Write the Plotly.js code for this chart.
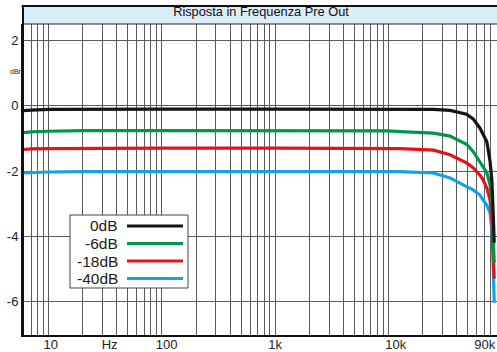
<!DOCTYPE html>
<html>
<head>
<meta charset="utf-8">
<script src="https://cdn.plot.ly/plotly-3.0.1.min.js"></script>
<style>html,body{margin:0;padding:0;background:#fff;}#chart{width:497px;height:352px;}</style>
</head>
<body>
<div id="chart"></div>
<script>
// ---- data ----
const freqHz = [6, 7, 10, 20, 100, 1000, 10000, 12700, 25000, 35000, 49000, 56000, 64000, 68000, 74000, 79000, 82000, 84000, 86000];
const level0dB  = [-0.15, -0.13, -0.11, -0.10, -0.10, -0.10, -0.10, -0.10, -0.11, -0.14, -0.26, -0.40, -0.67, -0.85, -1.10, -1.70, -2.30, -3.20, -4.20];
const level6dB  = [-0.82, -0.80, -0.78, -0.76, -0.76, -0.76, -0.77, -0.79, -0.84, -0.93, -1.18, -1.40, -1.71, -1.85, -2.05, -2.42, -2.90, -3.80, -4.82];
const level18dB = [-1.34, -1.32, -1.31, -1.30, -1.30, -1.30, -1.30, -1.31, -1.36, -1.50, -1.75, -1.90, -2.12, -2.25, -2.52, -2.88, -3.50, -4.30, -5.30];
const level40dB = [-2.06, -2.05, -2.03, -2.02, -2.02, -2.02, -2.02, -2.02, -2.06, -2.21, -2.48, -2.58, -2.73, -2.88, -3.05, -3.28, -3.80, -4.70, -6.04];
const seriesNames  = ['0dB', '-6dB', '-18dB', '-40dB'];
const seriesColors = ['#151515', '#00964b', '#e3131b', '#11a3e3'];
const xTickLabels = ['10', 'Hz', '100', '1k', '10k', '90k'];
const xTickPos    = [10.4, 34.5, 110, 1000, 11600, 71000];
const yTickVals   = [-6, -4, -2, 0, 2];
const gridMultipliers = [1, 2, 3, 4, 5, 6, 7, 8, 9];
const gridDecades = [1, 10, 100, 1000, 10000];
const chartTitle = 'Risposta in Frequenza Pre Out';
const yUnit = 'dBr';

// ---- build ----
const gridFreqs = [];
gridDecades.forEach(d => gridMultipliers.forEach(m => gridFreqs.push(m * d)));
const xRange = [Math.log10(5.93), Math.log10(91000)];
const yRange = [-7.03, 2.51];
const FONT = 'Liberation Sans, Arial, sans-serif';

const levels = [level0dB, level6dB, level18dB, level40dB];
const traces = [];
for (let i = levels.length - 1; i >= 0; i--) {
  traces.push({
    x: freqHz, y: levels[i], type: 'scatter', mode: 'lines', name: seriesNames[i],
    xaxis: i === 0 ? 'x2' : 'x', yaxis: 'y',
    line: {color: seriesColors[i], width: 3.2}, showlegend: false, hoverinfo: 'skip'
  });
}

// legend geometry (paper coords)
const plotL = 23, plotW = 474, plotB = 335, plotH = 311;
const px = v => (v - plotL) / plotW;
const py = v => (plotB - v) / plotH;
const legRows = [226, 243.5, 261, 278.5];
const shapes = [
  {type: 'rect', xref: 'paper', yref: 'paper', x0: 0, x1: 1.01, y0: 1, y1: 1 + 18 / plotH,
   fillcolor: '#dbedf9', line: {color: '#222', width: 1}, layer: 'above'},
  {type: 'line', xref: 'paper', yref: 'paper', x0: -0.003, x1: 1.01, y0: 1 + 18 / plotH, y1: 1 + 18 / plotH,
   line: {color: '#111', width: 2.2}, layer: 'above'},
  {type: 'line', xref: 'paper', yref: 'paper', x0: 0, x1: 0, y0: 0, y1: 1 + 18 / plotH,
   line: {color: '#111', width: 2}, layer: 'above'},
  {type: 'rect', xref: 'paper', yref: 'paper', x0: px(70), x1: px(188), y0: py(288), y1: py(215),
   fillcolor: '#ffffff', line: {color: '#444', width: 1}, layer: 'above'}
];
const annotations = [
  {text: yUnit, xref: 'paper', yref: 'paper', x: px(16), y: py(71), showarrow: false,
   xanchor: 'center', yanchor: 'middle', font: {family: FONT, size: 7, color: '#222'}}
];
seriesNames.forEach((n, i) => {
  shapes.push({type: 'line', xref: 'paper', yref: 'paper', x0: px(127), x1: px(183),
    y0: py(legRows[i]), y1: py(legRows[i]), line: {color: seriesColors[i], width: 3.2}, layer: 'above'});
  annotations.push({text: n, xref: 'paper', yref: 'paper', x: px(120), y: py(legRows[i]),
    showarrow: false, xanchor: 'right', yanchor: 'middle',
    font: {family: FONT, size: 15.5, color: '#1a1a1a'}});
});

const layout = {
  width: 497, height: 352,
  margin: {l: 23, r: 0, t: 24, b: 17, pad: 0},
  paper_bgcolor: '#ffffff', plot_bgcolor: '#ffffff',
  showlegend: false,
  title: {text: chartTitle, xref: 'paper', yref: 'paper', x: px(261), xanchor: 'center',
          y: 1 + 9 / plotH, yanchor: 'middle', font: {family: FONT, size: 12.8, color: '#111'}},
  xaxis: {type: 'log', range: xRange, tickmode: 'array', tickvals: gridFreqs, showticklabels: false,
          showgrid: true, gridcolor: '#5a5a5a', gridwidth: 1, ticks: '',
          showline: true, linecolor: '#111', linewidth: 2, zeroline: false, fixedrange: true},
  xaxis2: {type: 'log', range: xRange, overlaying: 'x', anchor: 'y', side: 'bottom',
           tickmode: 'array', tickvals: xTickPos, ticktext: xTickLabels, showgrid: false, ticks: '',
           ticklabeloverflow: 'allow',
           showline: false, zeroline: false, tickfont: {family: FONT, size: 13, color: '#222'}},
  yaxis: {range: yRange, tickmode: 'array', tickvals: yTickVals, ticktext: yTickVals.map(String),
          showgrid: true, gridcolor: '#5a5a5a', gridwidth: 1, ticks: '', zeroline: false,
          showline: true, linecolor: '#111', linewidth: 2,
          tickfont: {family: FONT, size: 13, color: '#222'}},
  shapes: shapes,
  annotations: annotations
};

Plotly.newPlot('chart', traces, layout, {staticPlot: true, displayModeBar: false});
</script>
</body>
</html>
